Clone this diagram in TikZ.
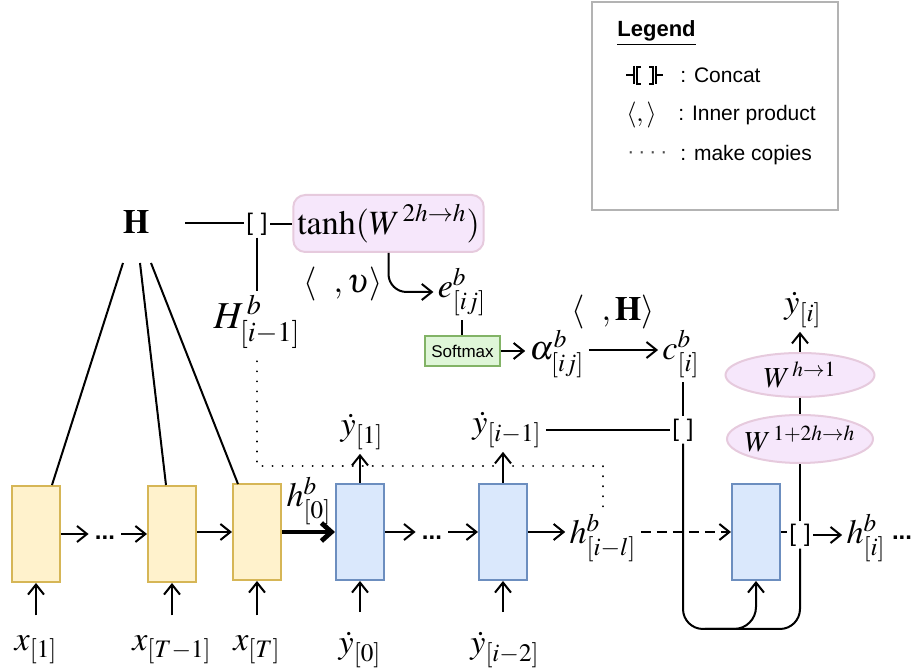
\documentclass[tikz,border=0pt]{standalone}
\usepackage{mathptmx}
\usepackage{fontspec}
\setmainfont{Liberation Serif}
\newfontfamily\lsans{Liberation Sans}
\usetikzlibrary{arrows.meta,shapes.geometric}
\definecolor{encf}{HTML}{FFF2CC}
\definecolor{encb}{HTML}{D6B656}
\definecolor{decf}{HTML}{DAE8FC}
\definecolor{decb}{HTML}{6C8EBF}
\definecolor{pinkf}{HTML}{F6E7FB}
\definecolor{pinkb}{HTML}{E6CADD}
\definecolor{grnf}{HTML}{DFF6D8}
\definecolor{grnb}{HTML}{82B366}
\definecolor{legb}{HTML}{B3B3B3}
\tikzset{
  every node/.style={font=\fontsize{17}{20}\selectfont, inner sep=2pt},
  cell/.style={line width=1pt, minimum width=24pt, minimum height=48pt, inner sep=0pt},
  enc/.style={cell, draw=encb, fill=encf},
  dec/.style={cell, draw=decb, fill=decf},
  cat/.style={font=\lsans\fontsize{12}{14}\selectfont, inner sep=1pt},
  dotsn/.style={font=\lsans\bfseries\fontsize{12}{14}\selectfont, inner sep=3pt},
  conn/.style={line width=1pt},
  arr/.style={conn, -{Straight Barb[length=5pt,width=8pt]}},
  thickarr/.style={line width=2.4pt, -{Straight Barb[length=5pt,width=9pt]}},
  copies/.style={line width=1.1pt, line cap=round, dash pattern=on 0.01pt off 5pt},
  leg/.style={font=\lsans\fontsize{10.5}{12}\selectfont, anchor=west, inner sep=0pt},
  wnode/.style={ellipse, draw=pinkb, fill=pinkf, line width=1pt, inner xsep=-8pt, inner ysep=-3pt, font=\fontsize{14.5}{17}\selectfont},
}
\begin{document}
\begin{tikzpicture}[x=0.5pt,y=-0.5pt]
\useasboundingbox (0,0) rectangle (912,672);

% Legend
\node[draw=legb, line width=0.9pt, minimum width=123pt, minimum height=104pt, inner sep=0pt] (legend) at (715,106) {};
\node[leg, font=\lsans\bfseries\fontsize{11}{12}\selectfont] (legt) at (617,33) {\underline{Legend}};
\draw[line width=0.8pt] (626,75) -- (634,75) (634,66) -- (634,84)
  (641,67) -- (637,67) -- (637,84) -- (641,84)
  (649,67) -- (653,67) -- (653,84) -- (649,84)
  (656,66) -- (656,84) (656,75) -- (663,75);
\node[leg] (l1) at (680,75) {: Concat};
\node[anchor=west, inner sep=0pt, font=\fontsize{13}{15}\selectfont] (ls2) at (626,115) {$\langle,\rangle$};
\node[leg] (l2) at (678,115) {: Inner product};
\node[leg, font=\lsans\fontsize{10.5}{12}\selectfont, text=black!70] (ls3) at (627,155) {·\kern2pt·\kern2pt·\kern2pt·};
\node[leg] (l3) at (680,155) {: make copies};

% top attention part
\node (H) at (136,222) {$\mathbf{H}$};
\coordinate (Hr) at (185,223);
\node[cat] (cat0) at (257,224) {[\,\,]};
\node[draw=pinkb, fill=pinkf, line width=1pt, rounded corners=6pt, minimum width=94.5pt, minimum height=28.5pt] (tanh) at (388.5,223.5) {$\tanh(W^{\,2h\rightarrow h})$};
\node[font=\fontsize{19}{22}\selectfont] (Hb) at (257,322) {$H^{\,b}_{[i-1]}$};
\node (e) at (462,292) {$e^{b}_{[ij]}$};
\node (iv) at (343,284) {$\langle\ \ ,\upsilon\rangle$};
\node[draw=grnb, fill=grnf, line width=1pt, minimum width=37.5pt, minimum height=15pt, inner sep=0pt, font=\lsans\fontsize{8.5}{10}\selectfont] (soft) at (462.5,351) {Softmax};
\node (alpha) at (557,354) {$\alpha^{b}_{[ij]}$};
\node (c) at (681,354) {$c^{b}_{[i]}$};
\node (iH) at (613,312) {$\langle\ \ ,\mathbf{H}\rangle$};

\draw[conn] (Hr) -- (cat0.west |- Hr);
\draw[conn] (cat0) -- (tanh.west |- cat0);
\draw[conn] (cat0.south) -- (Hb.north);
\draw[arr, rounded corners=9pt] (tanh.south) |- (e.west);
\draw[conn] (e.south) -- (soft.north -| e.south);
\draw[arr] (soft.east) -- (alpha.west |- soft.east);
\coordinate (acs) at (590,350);
\draw[arr] (alpha.east |- acs) -- (c.west |- acs);

% encoder
\node[enc] (e1) at (36,534) {};
\node[enc] (e2) at (172,534) {};
\node[enc] (e3) at (257,532) {};
\node[dotsn] (dots1) at (105,538) {...};
\node (x1) at (36,650) {$x_{[1]}$};
\node (x2) at (172,650) {$x_{[T-1]}$};
\node (x3) at (257,650) {$x_{[T]}$};

\coordinate (Hb1) at (123,263);
\coordinate (Hb2) at (140,263);
\coordinate (Hb3) at (151,263);
\coordinate (e1t) at (52,485);
\coordinate (e2t) at (166,485);
\coordinate (e3t) at (238,484);

% decoder
\node[dec] (d1) at (360,532) {};
\node[dec] (d2) at (503,532) {};
\node[dec] (d3) at (756,532) {};
\node[dotsn] (dots2) at (432,538) {...};
\node (h0) at (309,501) {$h^{b}_{[0]}$};
\node (hil) at (603,538) {$h^{b}_{[i-l]}$};
\node[cat] (cat2) at (800,535) {[\,\,]};
\node (hi) at (866,538) {$h^{b}_{[i]}$};
\node[dotsn] (dots3) at (902,538) {...};
\node (y0) at (360,650) {$\dot{y}_{[0]}$};
\node (yi2) at (505,650) {$\dot{y}_{[i-2]}$};
\node (y1) at (362,432) {$\dot{y}_{[1]}$};
\node (yi1) at (507,430) {$\dot{y}_{[i-1]}$};
\node[cat] (cat1) at (683,430) {[\,\,]};
\node[wnode, minimum width=73pt, minimum height=24pt] (W1) at (800,439) {$W^{\,1+2h\rightarrow h}$};
\node[wnode, minimum width=74.5pt, minimum height=22pt] (W2) at (800,375) {$W^{\,h\rightarrow 1}$};
\node (yi) at (803,310) {$\dot{y}_{[i]}$};

% connectors H to encoder
\draw[conn] (Hb1) -- (e1t);
\draw[conn] (Hb2) -- (e2t);
\draw[conn] (Hb3) -- (e3t);

% horizontal chain
\draw[arr] (e1.east) -- (dots1.west |- e1.east);
\draw[arr] (dots1.east |- e2.west) -- (e2.west);
\draw[arr] (e2.east |- e3.west) -- (e3.west);
\draw[thickarr] (e3.east) -- (d1.west);
\draw[arr] (d1.east) -- (dots2.west |- d1.east);
\draw[arr] (dots2.east |- d2.west) -- (d2.west);
\draw[arr] (d2.east) -- (hil.west |- d2.east);
\draw[arr, dash pattern=on 5pt off 3pt] (hil.east |- d3.west) -- (d3.west);
\draw[conn] (d3.east) -- (cat2.west |- d3.east);
\draw[arr] (cat2.east) -- (hi.west |- cat2.east);

% inputs
\draw[arr, shorten <=8pt] (x1.north) -- (e1.south);
\draw[arr, shorten <=8pt] (x2.north -| e2.south) -- (e2.south);
\draw[arr, shorten <=8pt] (x3.north -| e3.south) -- (e3.south);
\draw[arr, shorten <=8pt] (y0.north -| d1.south) -- (d1.south);
\draw[arr, shorten <=8pt] (yi2.north -| d2.south) -- (d2.south);

% outputs
\draw[arr] (d1.north) -- (d1.north |- y1.south);
\draw[arr] (d2.north) -- (d2.north |- yi1.south);
\draw[conn] (yi1.east |- cat1) -- (cat1.west);
\draw[conn] (cat1.north |- c.south) -- (cat1.north);

% loop
\coordinate (lb) at (740,629);
\coordinate (lb2) at (705,629);
\draw[conn, rounded corners=10pt] (cat1.south) |- (lb) -| (cat2.south);
\draw[arr, rounded corners=11pt] (lb2) -| (d3.south);
\draw[conn] (cat2.north) -- (W1.south);
\draw[conn] (W1.north) -- (W2.south);
\draw[arr] (W2.north) -- (W2.north |- yi.south);

% copies
\coordinate (cpA) at (603,466);
\draw[copies, shorten <=4pt] (Hb.south) |- (cpA) -- (cpA |- hil.north);
\end{tikzpicture}
\end{document}
